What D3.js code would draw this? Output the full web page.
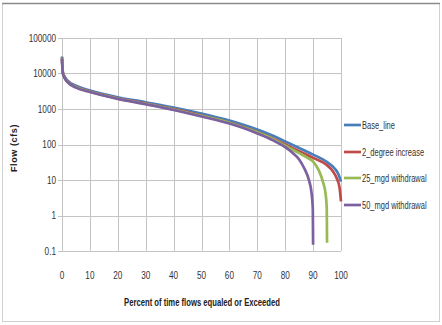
<!DOCTYPE html>
<html><head><meta charset="utf-8">
<script src="https://cdn.jsdelivr.net/npm/d3@7"></script>
<style>body{margin:0;background:#fff}svg{display:block}</style>
</head><body>
<svg id="c" width="442" height="325"></svg>
<script>
const seriesNames = ["Base_line", "2_degree increase", "25_mgd withdrawal", "50_mgd withdrawal"];
const seriesColors = ["#4a7ebb", "#be4b48", "#98b954", "#7d60a0"];
const xTicks = [0,10,20,30,40,50,60,70,80,90,100];
const yTicks = [0.1,1,10,100,1000,10000,100000];
const yTickLabels = ["0.1","1","10","100","1000","10000","100000"];

const basePct = [0,0.3,1,2,5,10,20,30,40,50,60,65,70,75,80,85,90,95,97,99,100];
const baseFlow = [30000,11000,8000,6300,4500,3300,2150,1550,1100,740,470,360,265,185,122,80,52,32,24,15,9];

const deg2Pct = [0,0.3,1,2,5,10,20,30,40,50,60,65,70,75,80,85,90,95,97,98.5,99.5,100];
const deg2Flow = [28000,10500,7600,5900,4200,3100,2000,1420,990,650,410,310,225,155,100,65,42,26,18,11,6,2.5];

const mgd25Pct = [0,0.3,1,2,5,10,20,30,40,50,60,65,70,75,80,85,88,90,92,93.5,94.5,94.9,95];
const mgd25Flow = [27000,10300,7500,5800,4100,3050,1980,1400,970,640,410,305,220,150,92,57,42,33,19,9,4,1.5,0.17];

const mgd50Pct = [0,0.3,1,2,5,10,20,30,40,50,60,65,70,75,80,83,85,87,88.5,89.5,89.9,90];
const mgd50Flow = [26000,10000,7300,5700,4000,3000,1920,1360,940,615,390,290,205,138,84,55,38,20,10,4,1.5,0.15];

const series = [
  {pct: basePct, flow: baseFlow},
  {pct: deg2Pct, flow: deg2Flow},
  {pct: mgd25Pct, flow: mgd25Flow},
  {pct: mgd50Pct, flow: mgd50Flow}
];

const svg = d3.select("#c");
const L = 62, R = 341, T = 38, B = 251;
const x = d3.scaleLinear().domain([0,100]).range([L,R]);
const y = d3.scaleLog().domain([0.1,100000]).range([B,T]);

// outer border
svg.append("rect").attr("x",2.5).attr("y",3.5).attr("width",437).attr("height",318)
  .attr("fill","none").attr("stroke","#d0d0d0");
svg.append("line").attr("x1",2).attr("x2",440).attr("y1",3.5).attr("y2",3.5).attr("stroke","#8a8a8a").attr("stroke-width",1.5);

// grid
const g = svg.append("g");
g.selectAll(".vg").data(xTicks).join("line")
  .attr("x1",d=>Math.round(x(d))+0.5).attr("x2",d=>Math.round(x(d))+0.5)
  .attr("y1",T).attr("y2",B).attr("stroke","#c4c4c4");
g.selectAll(".hg").data(yTicks).join("line")
  .attr("x1",L-4).attr("x2",R).attr("y1",d=>Math.round(y(d))+0.5).attr("y2",d=>Math.round(y(d))+0.5)
  .attr("stroke","#c4c4c4");

const font = "'Liberation Sans', Arial, sans-serif";
const SX = 0.78; // condensed look
function ctext(px, py, str, opts) {
  const t = svg.append("text")
    .attr("transform", `translate(${px},${py}) scale(${opts.sx || SX},1)`)
    .attr("font-family", font).attr("font-size", opts.size || 10)
    .attr("fill", opts.fill || "#333")
    .attr("text-anchor", opts.anchor || "start")
    .text(str);
  if (opts.bold) t.attr("font-weight", "bold");
  return t;
}
yTicks.forEach((d,i)=> ctext(56, y(d)+3.5, yTickLabels[i], {anchor:"end", size:10.5}));
xTicks.forEach(d=> ctext(x(d), 279, String(d), {anchor:"middle", size:10.5}));

ctext(202, 306, "Percent of time flows equaled or Exceeded", {anchor:"middle", size:10.5, bold:true, sx:0.73, fill:"#222"});
svg.append("text").attr("transform","translate(17,148) rotate(-90)").attr("text-anchor","middle")
  .attr("font-family",font).attr("font-size",9).attr("font-weight","bold").attr("fill","#222")
  .attr("letter-spacing",0.6)
  .text("Flow (cfs)");

// lines
const line = d3.line().curve(d3.curveMonotoneX);
series.forEach((s,i)=>{
  const pts = s.pct.map((p,j)=>[x(p), y(s.flow[j])]);
  svg.append("path").attr("d",line(pts)).attr("fill","none")
    .attr("stroke",seriesColors[i]).attr("stroke-width",2.7).attr("stroke-linejoin","round");
});

// legend
const legY = [125,152,178,205];
seriesNames.forEach((n,i)=>{
  svg.append("line").attr("x1",344).attr("x2",361).attr("y1",legY[i]).attr("y2",legY[i])
    .attr("stroke",seriesColors[i]).attr("stroke-width",2.7);
  ctext(362, legY[i]+3.5, n, {size:10, sx:0.75});
});
</script>
</body></html>
